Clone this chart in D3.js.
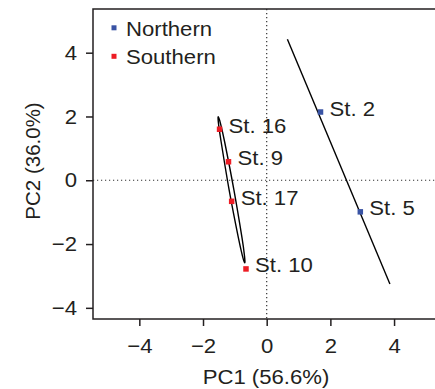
<!DOCTYPE html>
<html>
<head>
<meta charset="utf-8">
<script src="https://cdn.jsdelivr.net/npm/d3@7"></script>
<style>
  body { margin: 0; background: #fff; }
  text { font-family: 'Liberation Sans', Arial, sans-serif; fill: #231f20; }
</style>
</head>
<body>
<div id="chart"></div>
<script>
// station scores (PC1, PC2)
const stations = ['St. 2', 'St. 5', 'St. 16', 'St. 9', 'St. 17', 'St. 10'];
const regions = ['Northern', 'Northern', 'Southern', 'Southern', 'Southern', 'Southern'];
const pc1 = [1.69, 2.94, -1.48, -1.20, -1.10, -0.65];
const pc2 = [2.14, -0.99, 1.60, 0.58, -0.66, -2.78];

// group outlines
const northernLine = [[0.65, 4.42], [3.87, -3.25]];
const southernOutline = [
  [-1.52, 1.99], [-1.456, 1.8], [-1.32, 1.2], [-1.03, -0.3], [-0.776, -1.8], [-0.694, -2.4],
  [-0.69, -2.59], [-0.754, -2.4], [-0.89, -1.8], [-1.18, -0.3], [-1.43, 1.2], [-1.516, 1.8]
];

const legendLabels = ['Northern', 'Southern'];
const colors = {Northern: '#3953a4', Southern: '#ed1c24'};
const xTicks = [-4, -2, 0, 2, 4];
const yTicks = [-4, -2, 0, 2, 4];

const width = 435, height = 389;
const margin = {top: 9, right: -3, bottom: 70, left: 93};
const innerW = width - margin.left - margin.right;
const innerH = height - margin.top - margin.bottom;
const fs = 20.5;
const stretch = 1.08; // text in the picture is a bit wider than tall

const svg = d3.select('#chart').append('svg')
  .attr('width', width)
  .attr('height', height);

const x = d3.scaleLinear().domain([-5.455, 5.38]).range([margin.left, margin.left + innerW]);
const y = d3.scaleLinear().domain([-4.35, 5.37]).range([margin.top + innerH, margin.top]);

// widen text horizontally around its anchor
function widen(sel) {
  sel.each(function() {
    const ax = +(this.getAttribute('x') || 0);
    d3.select(this).attr('transform', `translate(${ax * (1 - stretch)},0) scale(${stretch},1)`);
  });
}

// reference lines at zero
svg.append('line')
  .attr('x1', x(0)).attr('x2', x(0))
  .attr('y1', margin.top).attr('y2', margin.top + innerH)
  .attr('stroke', '#333').attr('stroke-width', 1.2).attr('stroke-dasharray', '1.2,2.8');
svg.append('line')
  .attr('x1', margin.left).attr('x2', margin.left + innerW)
  .attr('y1', y(0)).attr('y2', y(0))
  .attr('stroke', '#333').attr('stroke-width', 1.2).attr('stroke-dasharray', '1.2,2.8');

// box
svg.append('rect')
  .attr('x', margin.left).attr('y', margin.top)
  .attr('width', innerW).attr('height', innerH)
  .attr('fill', 'none').attr('stroke', '#231f20').attr('stroke-width', 1.5);

// axes
const minus = d => d < 0 ? '\u2212' + Math.abs(d) : d;
const xAxis = d3.axisBottom(x).tickValues(xTicks).tickSize(7).tickPadding(12).tickFormat(minus);
const yAxis = d3.axisLeft(y).tickValues(yTicks).tickSize(7).tickPadding(9).tickFormat(minus);

svg.append('g')
  .attr('transform', `translate(0,${margin.top + innerH})`)
  .call(xAxis)
  .call(g => g.select('.domain').remove())
  .call(g => g.selectAll('line').attr('stroke', '#231f20').attr('stroke-width', 1.5))
  .call(g => g.selectAll('text').attr('font-size', fs).attr('fill', '#231f20').call(widen));

svg.append('g')
  .attr('transform', `translate(${margin.left},0)`)
  .call(yAxis)
  .call(g => g.select('.domain').remove())
  .call(g => g.selectAll('line').attr('stroke', '#231f20').attr('stroke-width', 1.5))
  .call(g => g.selectAll('text').attr('font-size', fs).attr('fill', '#231f20').call(widen));

// axis titles
svg.append('text')
  .attr('x', 266).attr('y', 384)
  .attr('text-anchor', 'middle').attr('font-size', fs)
  .text('PC1 (56.6%)')
  .call(widen);
svg.append('text')
  .attr('transform', 'translate(40,161) rotate(-90)')
  .attr('text-anchor', 'middle').attr('font-size', fs)
  .text('PC2 (36.0%)');

// group outlines
const line = d3.line().x(d => x(d[0])).y(d => y(d[1]));
svg.append('path')
  .attr('d', line(northernLine))
  .attr('fill', 'none').attr('stroke', '#000').attr('stroke-width', 1.4);
svg.append('path')
  .attr('d', line.curve(d3.curveCardinalClosed)(southernOutline))
  .attr('fill', 'none').attr('stroke', '#000').attr('stroke-width', 1.4);

// points
const pts = stations.map((s, i) => ({name: s, region: regions[i], x: pc1[i], y: pc2[i]}));
const ms = 5.5;
svg.selectAll('.pt')
  .data(pts)
  .enter().append('rect')
  .attr('class', 'pt')
  .attr('x', d => x(d.x) - ms / 2)
  .attr('y', d => y(d.y) - ms / 2)
  .attr('width', ms).attr('height', ms)
  .attr('fill', d => colors[d.region]);

svg.selectAll('.lbl')
  .data(pts)
  .enter().append('text')
  .attr('class', 'lbl')
  .attr('x', d => x(d.x) + 9)
  .attr('y', d => y(d.y) + 3.5)
  .attr('font-size', fs)
  .text(d => d.name)
  .call(widen);

// legend
const legend = svg.append('g');
legendLabels.forEach((l, i) => {
  legend.append('rect')
    .attr('x', 111.5).attr('y', 25.3 + i * 28.5)
    .attr('width', 5).attr('height', 5)
    .attr('fill', colors[l]);
  legend.append('text')
    .attr('x', 126).attr('y', 35.7 + i * 28.6)
    .attr('font-size', fs)
    .text(l)
    .call(widen);
});
</script>
</body>
</html>
